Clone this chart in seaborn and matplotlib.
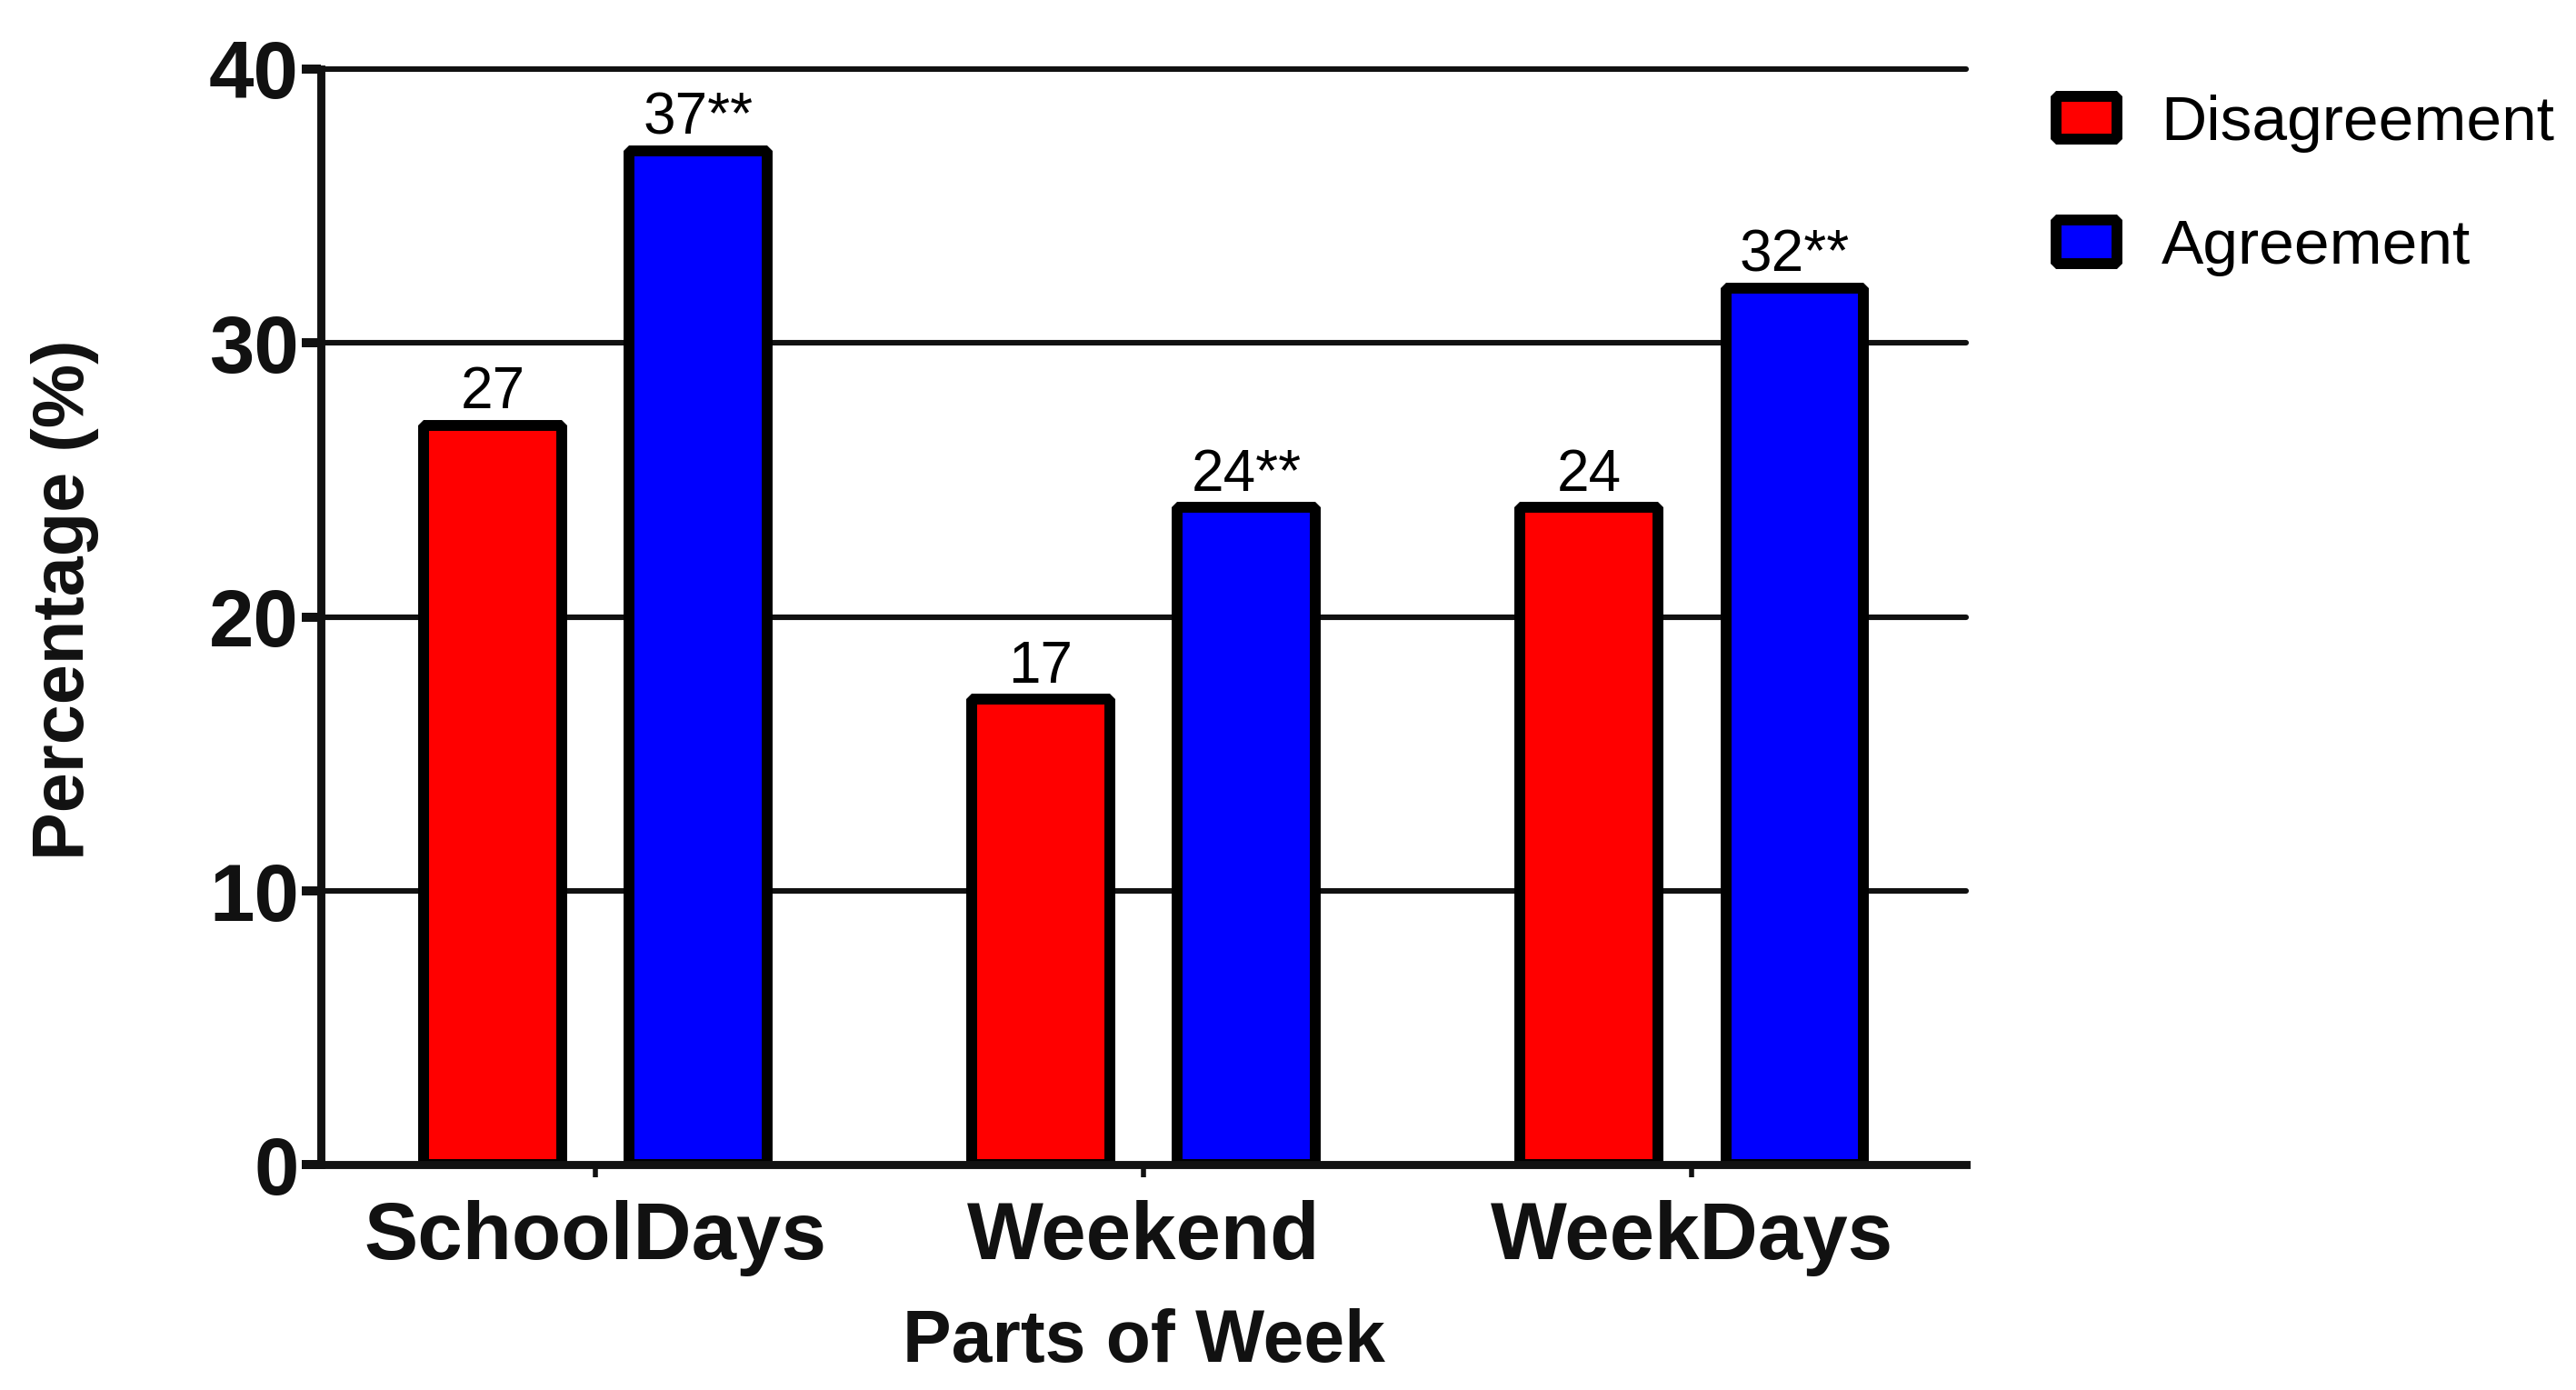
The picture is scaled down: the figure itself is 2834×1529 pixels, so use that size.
import matplotlib

matplotlib.use("Agg")
import matplotlib.pyplot as plt
import pandas as pd
import seaborn as sns

# --- data ---
parts = ["SchoolDays", "Weekend", "WeekDays"]
groups = ["Disagreement", "Agreement"]
disagreement = [27, 17, 24]
agreement = [37, 24, 32]
disagreement_labels = ["27", "17", "24"]
agreement_labels = ["37**", "24**", "32**"]
palette = {"Disagreement": "#FF0000", "Agreement": "#0000FF"}

df = pd.DataFrame(
    {
        "part": parts * 2,
        "group": ["Disagreement"] * 3 + ["Agreement"] * 3,
        "value": disagreement + agreement,
    }
)

sns.set_theme(style="white")
plt.rcParams["font.family"] = ["Liberation Sans", "DejaVu Sans"]

ink = "#111111"
fig = plt.figure(figsize=(14.17, 7.645), dpi=200)
ax = fig.add_axes([0.1247, 0.1619, 0.7632 - 0.1247, 0.9503 - 0.1619])

sns.barplot(
    data=df,
    x="part",
    y="value",
    hue="group",
    hue_order=groups,
    order=parts,
    palette=palette,
    width=0.75,
    gap=0.33,
    edgecolor="black",
    linewidth=4.3,
    saturation=1,
    ax=ax,
    zorder=3,
)

for patch in ax.patches:
    patch.set_joinstyle("bevel")

# value labels on top of bars
for container, labels in zip(ax.containers, [disagreement_labels, agreement_labels]):
    ax.bar_label(container, labels=labels, padding=2, fontsize=23, color="black")

ax.set_xlim(-0.5, 2.5)
ax.set_ylim(0, 40)
ax.set_yticks([0, 10, 20, 30, 40])

# horizontal grid lines
for y in [10, 20, 30, 40]:
    ax.axhline(y, color=ink, linewidth=2.2, zorder=1, clip_on=False)

for side in ["top", "right"]:
    ax.spines[side].set_visible(False)
for side in ["left", "bottom"]:
    ax.spines[side].set_color(ink)
    ax.spines[side].set_linewidth(3.2)
    ax.spines[side].set_zorder(4)

ax.tick_params(axis="y", which="major", left=True, length=7.4, width=3.6,
               color=ink, pad=1.4, labelsize=32, labelcolor=ink)
ax.tick_params(axis="x", which="major", bottom=True, length=5, width=2,
               color=ink, pad=9, labelsize=32, labelcolor=ink)
for lab in ax.get_xticklabels() + ax.get_yticklabels():
    lab.set_fontweight("bold")

ax.set_xlabel("Parts of Week", fontsize=29, fontweight="bold", color=ink)
ax.set_ylabel("Percentage (%)", fontsize=28.5, fontweight="bold", color=ink)
ax.xaxis.set_label_coords(0.5, -0.162)
ax.xaxis.label.set_va("center")
ax.yaxis.set_label_coords(-0.156, 0.516)
ax.yaxis.label.set_va("center")

handles, labels = ax.get_legend_handles_labels()
if ax.get_legend() is not None:
    ax.get_legend().remove()
leg = fig.legend(
    handles,
    labels,
    loc="upper left",
    bbox_to_anchor=(0.798, 0.932),
    frameon=False,
    fontsize=25,
    labelcolor="black",
    handlelength=0.97,
    handleheight=0.68,
    handletextpad=0.7,
    labelspacing=1.04,
    borderpad=0,
    borderaxespad=0,
)
for h, g in zip(leg.legend_handles, labels):
    h.set_facecolor(palette[g])
    h.set_edgecolor("black")
    h.set_linewidth(4.3)
    h.set_joinstyle("bevel")

fig.savefig("out.png", dpi=200, facecolor="white")
